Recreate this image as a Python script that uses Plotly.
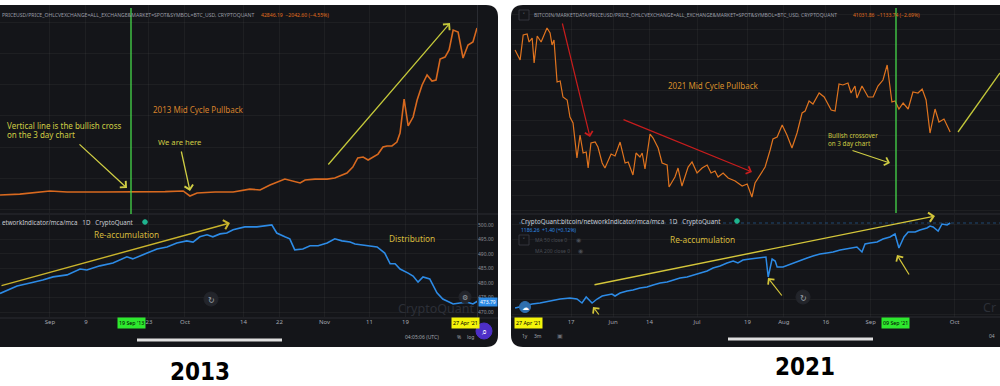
import plotly.graph_objects as go

# ---------------- DATA ----------------
# 2013 panel: day offset from 1 Sep 2013
p13_day = [-11.1, -6.7, 0, 3.8, 11.1, 18.4, 25.6, 29.6, 31.1, 32.7,
           36.7, 40.7, 44.4, 46.7, 48.9, 52.2, 55.6, 56.7, 58.9, 61.6,
           63.3, 66, 67.3, 68.4, 69.6, 70.7, 72.2, 72.9, 74, 74.9,
           76, 77.1, 77.8, 78.7, 79.6, 80.7, 81.6, 82.7, 83.8, 84.9,
           85.8, 86.7, 87.8, 88.7, 89.6, 90.7, 91.8, 92.9, 94, 94.9]
p13_price = [93, 99, 119, 112, 112, 112, 115, 119, 87, 106,
             112, 112, 131, 125, 157, 195, 170, 189, 195, 195,
             202, 234, 272, 330, 336, 317, 343, 355, 400, 407,
             407, 432, 490, 707, 535, 592, 701, 797, 861, 822,
             829, 963, 976, 1021, 1149, 1136, 970, 1053, 1072, 1162]

m13_day = [-11.1, -7.3, -4.4, -1.6, 0.7, 3.8, 6.7, 8.2, 11.1, 14,
           17.1, 18.4, 21.6, 23.8, 26, 28.2, 30.4, 31.8, 33.3, 34.9,
           36.2, 37.8, 39.3, 40.7, 43.3, 46, 49.3, 50.4, 52.2, 53.3,
           54.4, 56.2, 57.8, 59.6, 61.6, 63.3, 64.9, 66.7, 67.8, 70.4,
           72.7, 74.4, 75.6, 76.7, 77.8, 79.6, 80.7, 81.8, 82.9, 84.4,
           86, 87.3, 89.6, 91.1, 92.7, 94, 95.1]
m13_mca = [476.4, 479.0, 480.0, 481.0, 482.1, 482.8, 484.8, 484.5, 485.9, 486.9,
           489.0, 488.3, 490.3, 491.7, 492.4, 493.8, 494.5, 494.1, 495.9, 496.6,
           495.9, 496.9, 497.2, 498.3, 499.3, 499.3, 500.0, 497.2, 495.9, 495.2,
           491.4, 491.7, 492.8, 492.8, 493.8, 495.2, 494.5, 494.1, 493.4, 492.8,
           492.4, 490.3, 486.6, 486.6, 484.8, 483.4, 482.4, 480.3, 482.1, 481.4,
           476.6, 474.5, 472.8, 473.1, 473.4, 472.8, 473.8]

tick13_vals = [0, 8, 22, 30, 43, 51, 61, 71, 79]
tick13_text = ["Sep", "9", "23", "Oct", "14", "22", "Nov", "11", "19"]
mca13_vals = [470, 475, 480, 485, 490, 495, 500]
mca13_text = ["470.00", "475.00", "480.00", "485.00", "490.00", "495.00", "500.00"]

# 2021 panel: day offset from 1 Jun 2021
p21_day = [-35, -33.2, -32.1, -30.7, -30, -28.9, -28.2, -27.1, -25.7, -23.6,
           -22.5, -21.8, -21.1, -20, -18.9, -17.9, -16.4, -15.4, -14.3, -12.9,
           -11.8, -10.7, -9.6, -8.9, -7.9, -6.4, -5.4, -3.9, -2.9, -0.7,
           0.7, 2.5, 4.3, 5.4, 7.1, 8.2, 9.6, 10.4, 11.4, 13.2,
           14.3, 16.1, 17.5, 19.3, 20, 22.1, 23.2, 24.6, 26.8, 28.2,
           30, 31.8, 33.6, 35, 36.4, 37.5, 39.3, 41.1, 43.6, 46.1,
           47.9, 49.6, 50.7, 52.5, 54.3, 56.1, 57.1, 58.6, 60.4, 62.1,
           63.9, 65.7, 67.5, 68.6, 70, 71.4, 73.6, 75.4, 77.9, 79.3,
           80.7, 82.1, 83.9, 85, 86.4, 87.1, 88.9, 91.1, 92.9, 94.6,
           96.4, 97.9, 98.9, 99.6, 100.7, 102.1, 103.6, 105.4, 107.1, 108.9,
           110.4, 111.8, 113.2, 115, 116.4, 118.2, 120.4]
p21_price = [54150, 52500, 56640, 56810, 55480, 56140, 52000, 56470, 55480, 57800,
             56970, 54980, 55810, 48850, 49020, 46370, 45870, 43050, 42060, 36260,
             40070, 37090, 37250, 34600, 38740, 38910, 38080, 35430, 34600, 36920,
             36590, 38910, 35430, 35600, 33440, 37090, 36430, 37090, 34440, 40240,
             39570, 37920, 35430, 35100, 31450, 33110, 34600, 31620, 34770, 35600,
             33770, 34600, 35100, 33770, 34100, 33110, 33770, 32940, 32450, 31620,
             31950, 29800, 32120, 33440, 34770, 37590, 39410, 39740, 41730, 40070,
             37920, 40400, 43720, 44050, 45700, 45210, 47030, 46370, 44210, 44050,
             48520, 48360, 48690, 47030, 48190, 46200, 48190, 46370, 46370, 48190,
             49180, 51670, 48020, 45540, 45700, 44380, 45370, 44380, 47200, 47030,
             47690, 45870, 40400, 44380, 42220, 42720, 40570]

m21_day = [-35, -32.1, -28.9, -26.1, -22.5, -18.9, -15.4, -12.9, -11.1, -9.6,
           -7.5, -5.7, -3.9, -2.1, -0.4, 0.7, 2.5, 5, 7.1, 9.6,
           12.1, 14.3, 16.8, 19.3, 21.4, 23.9, 26.4, 28.6, 31.1, 33.6,
           35.7, 38.2, 40.7, 42.9, 44.6, 46.4, 48.9, 51.4, 53.6, 54.6,
           55.4, 56.8, 57.9, 58.6, 60.7, 62.5, 64.3, 66.8, 69.3, 71.4,
           73.9, 76.4, 78.6, 81.1, 84.6, 87.1, 88.9, 90, 91.8, 94.3,
           96.4, 98.9, 100.7, 102.1, 103.9, 105.4, 107.9, 109.6, 112.1, 113.2,
           114.3, 116.1, 117.5, 119.3, 120.4]
m21_mca = [1101, 1103, 1105, 1106, 1108, 1110, 1111, 1110, 1106, 1112,
           1106, 1110, 1113, 1114, 1115, 1113, 1116, 1118, 1119, 1121,
           1122, 1124, 1126, 1127, 1129, 1131, 1132, 1134, 1136, 1138,
           1141, 1143, 1146, 1148, 1146, 1149, 1150, 1151, 1152, 1152,
           1132, 1150, 1148, 1142, 1142, 1144, 1146, 1149, 1151, 1153,
           1155, 1156, 1157, 1159, 1161, 1162, 1157, 1165, 1166, 1167,
           1170, 1172, 1175, 1161, 1172, 1177, 1177, 1179, 1181, 1183,
           1182, 1178, 1185, 1184, 1186]

tick21_vals = [-15, 0, 13, 30, 48, 61, 76, 92, 122]
tick21_text = ["17", "Jun", "14", "Jul", "19", "Aug", "16", "Sep", "Oct"]

# ---------------- HELPERS ----------------
W, H = 1000, 386
def px(x):
    return x / W
def py(y):
    return 1 - y / H

BG = "#141519"
GRID = "rgba(255,255,255,0.045)"
BORDER = "#2a2c32"
AX = "#a3a6af"
ORANGE = "#d8691f"
BLUE = "#2d8be6"
FONT = "Noto Sans, DejaVu Sans, sans-serif"

fig = go.Figure()

fig.add_trace(go.Scatter(x=p13_day, y=p13_price, mode="lines",
                         line=dict(color=ORANGE, width=1.6), xaxis="x", yaxis="y", hoverinfo="skip"))
fig.add_trace(go.Scatter(x=m13_day, y=m13_mca, mode="lines",
                         line=dict(color=BLUE, width=1.6), xaxis="x2", yaxis="y2", hoverinfo="skip"))
fig.add_trace(go.Scatter(x=p21_day, y=p21_price, mode="lines",
                         line=dict(color="#e0741f", width=1.2), xaxis="x3", yaxis="y3", hoverinfo="skip"))
fig.add_trace(go.Scatter(x=m21_day, y=m21_mca, mode="lines",
                         line=dict(color=BLUE, width=1.5), xaxis="x4", yaxis="y4", hoverinfo="skip"))

common = dict(zeroline=False, showline=False, automargin=False, fixedrange=True, gridcolor=GRID, gridwidth=1)
L_DOM = [0, px(477)]
R_DOM = [px(512), 1.0]
TOP_DOM = [py(213), py(5)]
BOT_DOM = [py(317), py(215)]

shapes = []
annotations = []

def txt(x, y, s, size, color, xanchor="left", family=FONT, bg=None, pad=0):
    a = dict(x=px(x), y=py(y), xref="paper", yref="paper", text=s, showarrow=False,
             xanchor=xanchor, yanchor="middle", font=dict(size=size, color=color, family=family))
    if bg:
        a.update(bgcolor=bg, borderpad=pad)
    annotations.append(a)

def arrow(x0, y0, x1, y1, color, width=1.3, size=1.3, head=4):
    annotations.append(dict(x=px(x1), y=py(y1), xref="paper", yref="paper", text="",
                            showarrow=True, ax=x0 - x1, ay=y0 - y1, arrowhead=head,
                            arrowsize=size, arrowwidth=width, arrowcolor=color))

def line(x0, y0, x1, y1, color, width=1, dash=None):
    shapes.append(dict(type="line", xref="paper", yref="paper", x0=px(x0), y0=py(y0),
                       x1=px(x1), y1=py(y1), line=dict(color=color, width=width, dash=dash)))

def circle(cx, cy, r, fill, lc=None):
    shapes.append(dict(type="circle", xref="paper", yref="paper", x0=px(cx - r), x1=px(cx + r),
                       y0=py(cy + r), y1=py(cy - r), fillcolor=fill,
                       line=dict(color=lc or fill, width=1)))

# panel backgrounds
r = 12
left_path = (f"M 0,{py(5)} L {px(498-r)},{py(5)} Q {px(498)},{py(5)} {px(498)},{py(5+r)} "
             f"L {px(498)},{py(347-r)} Q {px(498)},{py(347)} {px(498-r)},{py(347)} L 0,{py(347)} Z")
right_path = (f"M 1,{py(5)} L {px(511+r)},{py(5)} Q {px(511)},{py(5)} {px(511)},{py(5+r)} "
              f"L {px(511)},{py(347-r)} Q {px(511)},{py(347)} {px(511+r)},{py(347)} L 1,{py(347)} Z")
for pth in (left_path, right_path):
    shapes.append(dict(type="path", path=pth, xref="paper", yref="paper", fillcolor=BG,
                       line=dict(width=0), layer="below"))

# pane borders
line(0, 214, 498, 214, BORDER)
line(511, 214, 1000, 214, BORDER)
line(0, 318, 498, 318, BORDER)
line(511, 317, 1000, 317, BORDER)
line(477.5, 5, 477.5, 318, BORDER)

# green vertical crossover lines
line(131, 8, 131, 214, "#45d84a", 1.3)
line(896, 8, 896, 213, "#45d84a", 1.3)

# last value dotted line (2021 indicator)
line(519, 223, 1000, 223, "rgba(45,139,230,0.55)", 0.8, "dot")

# home bars
line(137, 340, 282, 340, "#dedede", 3)
line(728, 339, 873, 339, "#dedede", 3)

# ---------------- LEFT PANEL TEXT ----------------
HDR = "#9a9da6"
txt(0, 15, "PRICEUSD/PRICE_OHLCVEXCHANGE=ALL_EXCHANGE&MARKET=SPOT&SYMBOL=BTC_USD, CRYPTOQUANT", 5.1, HDR)
txt(259, 15, "42846.19  \u22122042.60 (\u22124.55%)", 5.1, "#e0701f")

YG = "#cfcd44"
txt(5, 125, "Vertical line is the bullish cross", 8, YG)
txt(5, 134, "on the 3 day chart", 8, YG)
arrow(78, 143, 127, 188, YG)
txt(151, 109, "2013 Mid Cycle Pullback", 8, "#d8812b")
txt(156, 142, "We are here", 7.7, YG)
arrow(181, 150, 190, 191, YG)
arrow(327, 166, 450, 23, "#c4c83a", 1.3)

txt(0, 222, "etworkIndicator/mca/mca   1D   CryptoQuant", 6.2, "#c9cbd1")
circle(145, 222, 2.3, "#1fb48f")
txt(92, 234, "Re-accumulation", 8.3, "#d6bb3d")
arrow(0, 286, 230, 223, "#c9b42c", 1.4)
txt(387, 238, "Distribution", 8.3, "#d6bb3d")
txt(396, 308, "CryptoQuant", 12.5, "#2c2f37")

circle(211, 299, 7, "#23252b")
txt(211, 299, "\u21bb", 8, "#9aa0a8", xanchor="center")
circle(465, 297, 6, "#23252b")
txt(465, 297, "\u2699", 7, "#9aa0a8", xanchor="center")

txt(488, 302, "473.79", 5, "#ffffff", xanchor="center", bg=BLUE, pad=1)
txt(131, 323, "19 Sep '13", 5.3, "#000000", xanchor="center", bg="#2ee82e", pad=1)
txt(465, 323, "27 Apr '21", 5.3, "#000000", xanchor="center", bg="#f4f40a", pad=1)

txt(403, 337, "04:05:06 (UTC)", 5, AX)
txt(459, 337, "%", 5, AX, xanchor="center")
txt(470, 337, "log", 5, AX, xanchor="center")
circle(484, 331, 8, "#4d2fc6")
txt(484, 331, "\u2315", 9, "#ffffff", xanchor="center")

# ---------------- RIGHT PANEL TEXT ----------------
shapes.append(dict(type="rect", xref="paper", yref="paper", x0=px(519), x1=px(529), y0=py(20), y1=py(10),
                   line=dict(color="#3a3d45", width=0.8), fillcolor=BG))
txt(524, 15, "\u02c5", 6, HDR, xanchor="center")
txt(532, 15, "BITCOIN/MARKETDATA/PRICEUSD/PRICE_OHLCVEXCHANGE=ALL_EXCHANGE&MARKET=SPOT&SYMBOL=BTC_USD, CRYPTOQUANT", 5.0, HDR)
txt(851, 15, "41031.86  \u22121133.74 (\u22122.69%)", 5.0, "#e0701f")

RED = "#c81d1d"
arrow(562, 22, 590, 137, RED, 1.2)
arrow(622, 119, 752, 172, RED, 1.2)
txt(666, 85, "2021 Mid Cycle Pullback", 8, "#d98f2b")
txt(826, 136, "Bullish crossover", 6.3, YG)
txt(826, 143, "on 3 day chart", 6.3, YG)
arrow(851, 150, 890, 163, YG, 1.2)
line(958, 132, 1000, 73, "#c4c83a", 1.3)

txt(519, 221, "CryptoQuant:bitcoin/networkIndicator/mca/mca   1D   CryptoQuant", 6.3, "#c9cbd1")
circle(737, 221, 2.3, "#1fb48f")
txt(519, 230, "1186.26  +1.40 (+0.12%)", 5, BLUE)
shapes.append(dict(type="rect", xref="paper", yref="paper", x0=px(519), x1=px(529), y0=py(245), y1=py(235),
                   line=dict(color="#3a3d45", width=0.8), fillcolor=BG))
txt(524, 240, "\u02c5", 6, HDR, xanchor="center")
txt(533, 240, "MA 50 close 0", 5, "#4a4d55")
txt(578, 240, "\u25c9", 6, "#4a4d55", xanchor="center")
txt(533, 251, "MA 200 close 0", 5, "#4a4d55")
txt(580, 251, "\u25c9", 6, "#4a4d55", xanchor="center")

txt(668, 239, "Re-accumulation", 8.3, "#d6bb3d")
arrow(593, 285, 935, 216, "#d4c63a", 1.4)
arrow(600, 316, 593, 307, "#d4c63a", 1.2)
arrow(783, 297, 768, 278, "#d4c63a", 1.2)
arrow(910, 276, 897, 255, "#d4c63a", 1.2)

circle(803, 297, 7, "#23252b")
txt(803, 297, "\u21bb", 8, "#9aa0a8", xanchor="center")
circle(525, 307, 5.5, "#2f6fae")
txt(525, 307, "\u2601", 7, "#ffffff", xanchor="center")
txt(998, 307, "Cr", 12.5, "#2c2f37", xanchor="right")

txt(528, 323, "27 Apr '21", 5.3, "#000000", xanchor="center", bg="#f4f40a", pad=1)
txt(895, 323, "09 Sep '21", 5.3, "#000000", xanchor="center", bg="#2ee82e", pad=1)

txt(525, 336, "1y", 5, AX, xanchor="center")
txt(538, 336, "3m", 5, AX, xanchor="center")
txt(560, 336, "\u25a3", 6, "#6a6d75", xanchor="center")
txt(997, 336, "04", 5, AX, xanchor="right")

# year captions
CAP = "Liberation Sans Narrow, DejaVu Sans Condensed, Arial Narrow, sans-serif"
txt(200, 372, "<b>2013</b>", 24, "#000000", xanchor="center", family=CAP)
txt(805, 367, "<b>2021</b>", 24, "#000000", xanchor="center", family=CAP)

fig.update_layout(
    width=W, height=H,
    margin=dict(l=0, r=0, t=0, b=0),
    paper_bgcolor="#ffffff",
    plot_bgcolor="rgba(0,0,0,0)",
    showlegend=False,
    hovermode=False,
    font=dict(family=FONT),
    xaxis=dict(domain=L_DOM, range=[-11.1, 94.9], anchor="y", tickvals=tick13_vals,
               showticklabels=False, showgrid=True, ticks="", **common),
    yaxis=dict(domain=TOP_DOM, range=[-22, 1309], anchor="x", dtick=200,
               showticklabels=False, showgrid=True, ticks="", **common),
    xaxis2=dict(domain=L_DOM, range=[-11.1, 94.9], anchor="y2", tickvals=tick13_vals, ticktext=tick13_text,
                tickfont=dict(size=6, color=AX), showgrid=True, ticks="", **common),
    yaxis2=dict(domain=BOT_DOM, range=[468.3, 503.4], anchor="x2", side="right",
                tickvals=mca13_vals, ticktext=mca13_text, tickfont=dict(size=5, color="#8d9099"),
                showgrid=True, ticks="", **common),
    xaxis3=dict(domain=R_DOM, range=[-36.1, 138.2], anchor="y3", tickvals=tick21_vals,
                showticklabels=False, showgrid=True, ticks="", **common),
    yaxis3=dict(domain=TOP_DOM, range=[27150, 61610], anchor="x3", dtick=2500,
                showticklabels=False, showgrid=True, ticks="", **common),
    xaxis4=dict(domain=R_DOM, range=[-36.1, 138.2], anchor="y4", tickvals=tick21_vals, ticktext=tick21_text,
                tickfont=dict(size=6, color=AX), showgrid=True, ticks="", **common),
    yaxis4=dict(domain=BOT_DOM, range=[1092, 1194], anchor="x4", dtick=15,
                showticklabels=False, showgrid=True, ticks="", **common),
    shapes=shapes,
    annotations=annotations,
)

fig.write_html("out.html", config={"displayModeBar": False},
               post_script="document.body.style.margin='0px';document.body.style.overflow='hidden';")
